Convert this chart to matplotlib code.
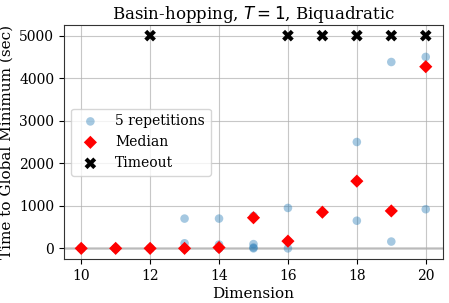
import numpy as np
import matplotlib.pyplot as plt

plt.rcParams['font.family'] = 'DejaVu Serif'

# 5 repetitions per dimension (finished runs only)
rep_x = [10]*5 + [11]*5 + [12]*4 + [13]*5 + [14]*4 + [15]*4 + [16]*3 + [17]*2 + [18]*3 + [19]*3 + [20]*3
rep_y = [0, 0, 0, 0, 0,
         0, 0, 0, 0, 0,
         0, 0, 0, 0,
         700, 120, 0, 0, 0,
         700, 90, 0, 0,
         760, 100, 20, 0,
         950, 170, 0,
         850, 850,
         2500, 1580, 650,
         4380, 880, 160,
         4500, 4270, 920]

med_x = [10, 11, 12, 13, 14, 15, 16, 17, 18, 19, 20]
med_y = [0, 0, 0, 0, 20, 720, 170, 850, 1580, 880, 4270]

timeout_x = [12, 16, 17, 18, 19, 20]
timeout_y = [5000, 5000, 5000, 5000, 5000, 5000]

fig, ax = plt.subplots(figsize=(4.49, 3.03), dpi=100)
fig.subplots_adjust(left=0.1425, right=0.9866, top=0.9175, bottom=0.1452)

ax.axhline(0, color='lightgray', lw=2, zorder=0)
ax.scatter(rep_x, rep_y, s=38, color='tab:blue', alpha=0.4, edgecolors='none', label='5 repetitions', zorder=2)
ax.scatter(med_x, med_y, s=45, color='red', marker='D', edgecolors='none', label='Median', zorder=3)
ax.scatter(timeout_x, timeout_y, s=70, color='black', marker='X', edgecolors='none', label='Timeout', zorder=3)

ax.set_xticks([10, 12, 14, 16, 18, 20])
ax.set_yticks([0, 1000, 2000, 3000, 4000, 5000])
ax.grid(True, color='#b0b0b0', lw=0.8, alpha=0.7)
ax.set_axisbelow(True)
for sp in ax.spines.values():
    sp.set_color('#333333')
ax.set_xlabel('Dimension', fontsize=11, labelpad=3)
ax.set_ylabel('Time to Global Minimum (sec)', fontsize=11)
ax.set_title('Basin-hopping, $T = 1$, Biquadratic', fontsize=12, pad=4)
ax.tick_params(labelsize=10)
ax.legend(loc='center left', fontsize=10)

fig.savefig('out.png', dpi=100)
